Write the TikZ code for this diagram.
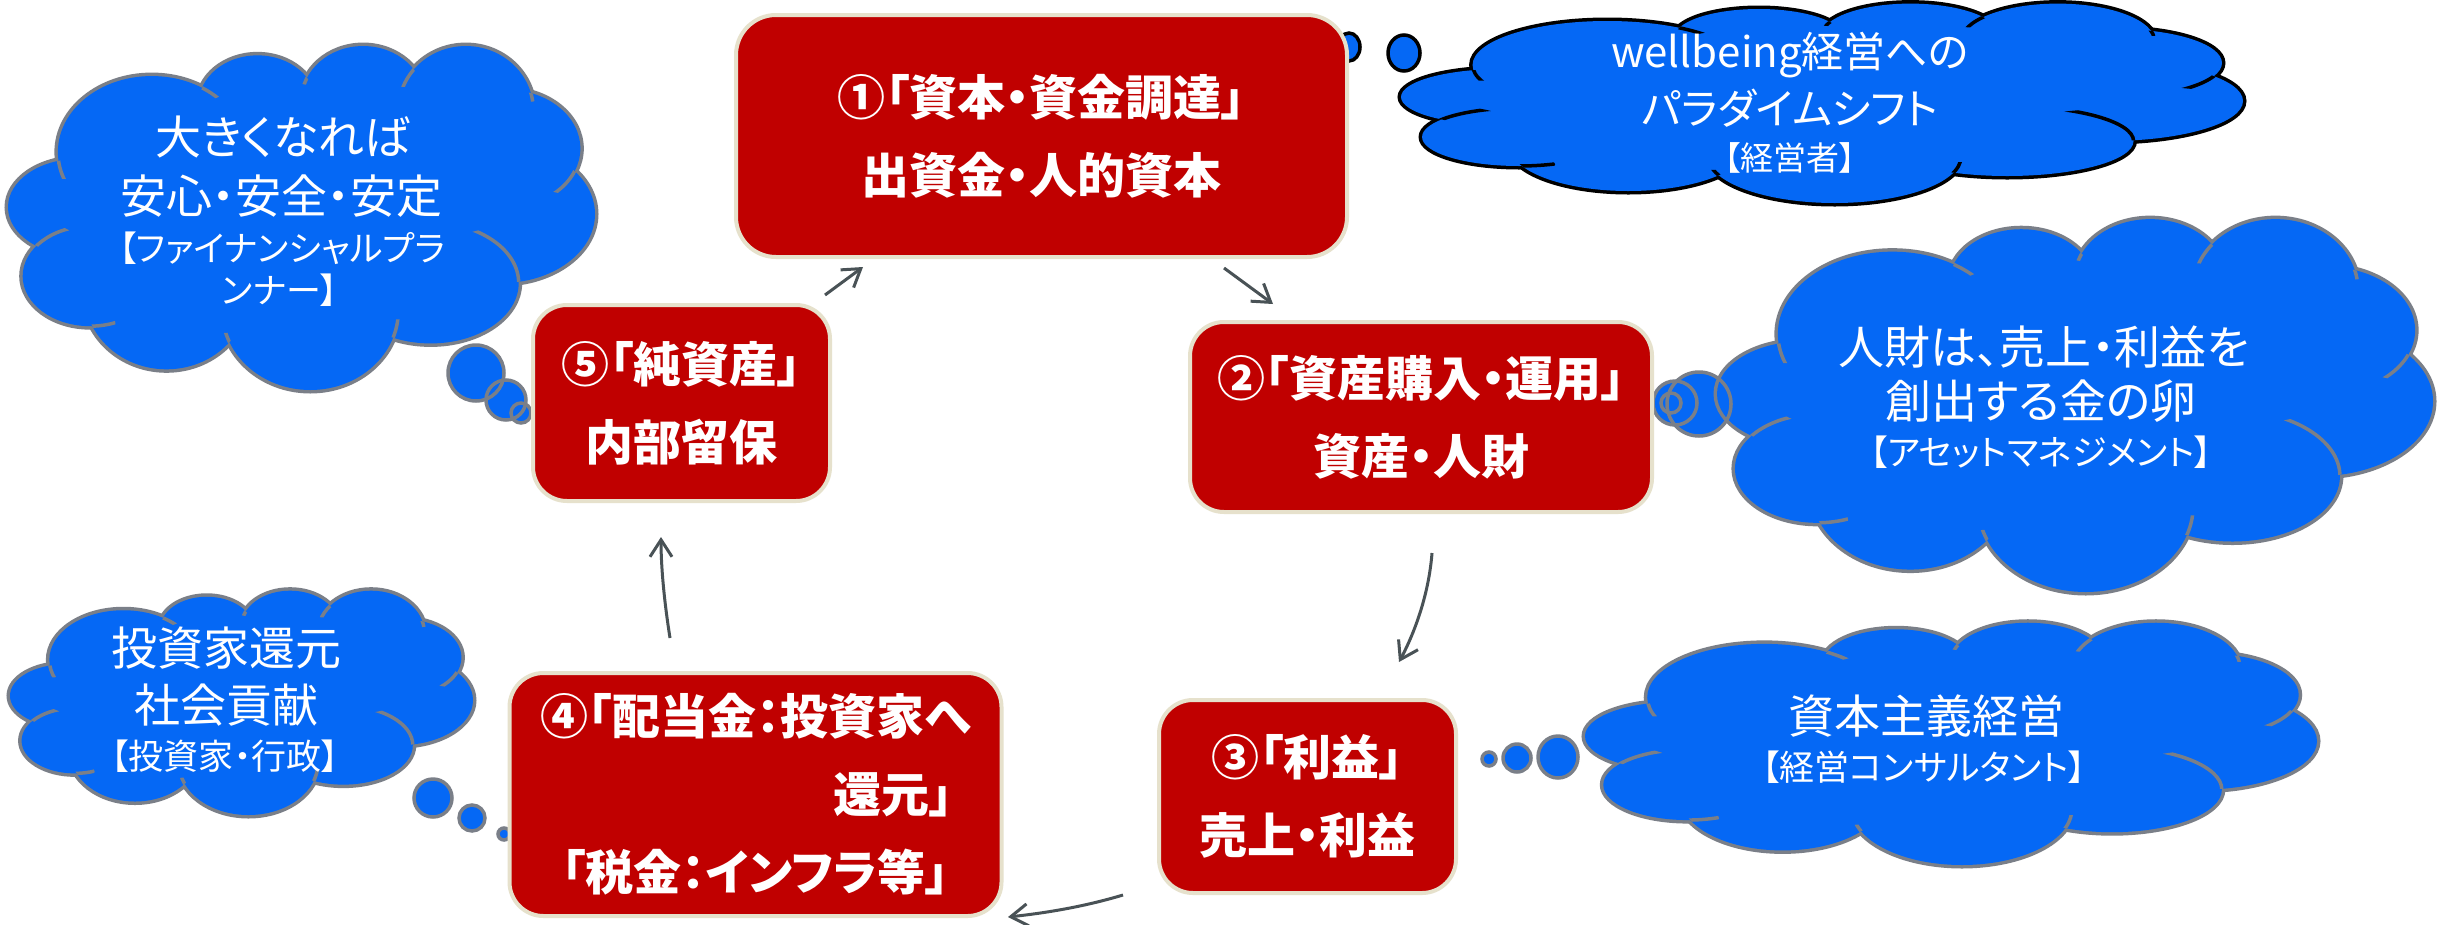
\documentclass[tikz,border=0pt]{standalone}
\usepackage{fontspec}
\newfontfamily\jp{Noto Sans CJK JP}[RawFeature=+palt]
\usetikzlibrary{arrows.meta}
\definecolor{boxred}{HTML}{C00000}
\definecolor{boxedge}{HTML}{E6E1CC}
\definecolor{cloudblue}{HTML}{0568F5}
\definecolor{cloudedge}{HTML}{7A7F88}
\definecolor{arrowgray}{HTML}{495256}
% lobes of a PowerPoint-like cloud in a unit box (u right, v down)
\def\lobelist{0.12/0.47/0.12/0.14, 0.245/0.31/0.16/0.22, 0.425/0.17/0.10/0.14,
  0.605/0.16/0.105/0.157, 0.78/0.19/0.115/0.187, 0.85/0.30/0.125/0.17,
  0.84/0.49/0.16/0.20, 0.72/0.69/0.15/0.175, 0.515/0.77/0.15/0.23,
  0.27/0.72/0.14/0.22, 0.14/0.67/0.115/0.145}
% inner arcs: lobe X / lobe Y it runs into / valley point / reach
\def\innerlist{%
  0.245/0.31/0.16/0.22/0.12/0.47/0.12/0.14/0.094/0.338/0.05,
  0.245/0.31/0.16/0.22/0.425/0.17/0.10/0.14/0.33/0.116/0.045,
  0.605/0.16/0.105/0.157/0.425/0.17/0.10/0.14/0.519/0.077/0.04,
  0.78/0.19/0.115/0.187/0.605/0.16/0.105/0.157/0.68/0.077/0.045,
  0.78/0.19/0.115/0.187/0.85/0.30/0.125/0.17/0.886/0.13/0.035,
  0.85/0.30/0.125/0.17/0.84/0.49/0.16/0.20/0.956/0.372/0.06,
  0.72/0.69/0.15/0.175/0.84/0.49/0.16/0.20/0.862/0.696/0.17,
  0.515/0.77/0.15/0.23/0.72/0.69/0.15/0.175/0.663/0.845/0.05,
  0.515/0.77/0.15/0.23/0.27/0.72/0.14/0.22/0.374/0.874/0.04,
  0.14/0.67/0.115/0.145/0.27/0.72/0.14/0.22/0.148/0.807/0.035,
  0.14/0.67/0.115/0.145/0.12/0.47/0.12/0.14/0.054/0.586/0.07}
% #1 left, #2 top, #3 width, #4 height, #5 outline colour
\newcommand\pptcloud[5]{%
  \begin{scope}[shift={(#1,#2)}, xscale=#3, yscale=#4]
    \foreach \cu/\cv/\ca/\cb in \lobelist
      {\draw[draw=#5, line width=7pt] (\cu,\cv) ellipse[x radius=\ca, y radius=\cb];}
    \foreach \cu/\cv/\ca/\cb in \lobelist
      {\fill[cloudblue] (\cu,\cv) ellipse[x radius=\ca, y radius=\cb];}
    \fill[cloudblue] (0.5,0.5) ellipse[x radius=0.38, y radius=0.33];
    \foreach \xu/\xv/\xa/\xb/\yu/\yv/\ya/\yb/\pu/\pv/\rr in \innerlist {%
      \begin{scope}
        \clip (\yu,\yv) ellipse[x radius=\ya, y radius=\yb];
        \clip (\pu,\pv) ellipse[x radius=\rr, y radius=\rr];
        \draw[draw=#5, line width=3.5pt] (\xu,\xv) ellipse[x radius=\xa, y radius=\xb];
      \end{scope}}
  \end{scope}}
\begin{document}
\begin{tikzpicture}[x=1pt,y=-1pt,
  procbox/.style={rectangle, rounded corners=34pt, fill=boxred, draw=boxedge, line width=4pt,
    text=white, font=\jp\bfseries\fontsize{48}{78}\selectfont, align=center, inner sep=0pt},
  bubfill/.style={fill=cloudblue},
  bubline/.style={draw=cloudedge, line width=3.5pt},
  bigtext/.style={text=white, inner sep=0pt, font=\jp\fontsize{46}{50}\selectfont},
  smalltext/.style={text=white, inner sep=0pt, font=\jp\fontsize{35}{40}\selectfont},
  flow/.style={draw=arrowgray, line width=3pt, -{Straight Barb[length=17pt,width=22pt]}}
]
\fill[white] (0,0) rectangle (2456,924);
\useasboundingbox (0,0) rectangle (2456,924);

% ---------- thought bubbles: fills ----------
\fill[bubfill] (1307,42) ellipse[x radius=5, y radius=6];
\fill[bubfill] (1349,47) ellipse[x radius=11, y radius=14];
\fill[bubfill] (1404,53) ellipse[x radius=16, y radius=18];
\fill[bubfill] (476,373) circle[radius=28];
\fill[bubfill] (506,400) circle[radius=20];
\fill[bubfill] (521,413) circle[radius=10];
\fill[bubfill] (1675,403) circle[radius=22];
\fill[bubfill] (1671,403) circle[radius=10];
\fill[bubfill] (1699,404) circle[radius=32];
\fill[bubfill] (1489,759) circle[radius=7];
\fill[bubfill] (1517,758) circle[radius=14];
\fill[bubfill] (1558,757) ellipse[x radius=20, y radius=21];
\fill[bubfill] (433,798) circle[radius=19];
\fill[bubfill] (472,818) circle[radius=13];
\fill[bubfill] (504,834) circle[radius=6];

% ---------- clouds ----------
\pptcloud{1401}{3}{842}{200}{black}
\pptcloud{8}{45}{587}{345}{cloudedge}
\pptcloud{1717}{218}{716}{374}{cloudedge}
\pptcloud{1585}{622}{732}{243}{cloudedge}
\pptcloud{10}{590}{463}{225}{cloudedge}

% ---------- thought bubbles: outlines ----------
\draw[bubline, draw=black] (1307,42) ellipse[x radius=5, y radius=6];
\draw[bubline, draw=black] (1349,47) ellipse[x radius=11, y radius=14];
\draw[bubline, draw=black] (1404,53) ellipse[x radius=16, y radius=18];
\draw[bubline] (476,373) circle[radius=28];
\draw[bubline] (506,400) circle[radius=20];
\draw[bubline] (521,413) circle[radius=10];
\draw[bubline] (1675,403) circle[radius=22];
\draw[bubline] (1671,403) circle[radius=10];
\draw[bubline] (1699,404) circle[radius=32];
\draw[bubline] (1489,759) circle[radius=7];
\draw[bubline] (1517,758) circle[radius=14];
\draw[bubline] (1558,757) ellipse[x radius=20, y radius=21];
\draw[bubline] (433,798) circle[radius=19];
\draw[bubline] (472,818) circle[radius=13];
\draw[bubline] (504,834) circle[radius=6];

% ---------- cloud texts ----------
\node[bigtext, font=\jp\fontsize{42}{46}\selectfont] (tA1) at (1790,55) {wellbeing経営への};
\node[bigtext, font=\jp\fontsize{42}{46}\selectfont] (tA2) at (1790,108) {パラダイムシフト};
\node[smalltext, font=\jp\fontsize{33}{38}\selectfont] (tA3) at (1790,158) {【経営者】};

\node[bigtext] (tB1) at (283,137) {大きくなれば};
\node[bigtext] (tB2) at (281,196) {安心・安全・安定};
\node[smalltext] (tB3) at (282,248) {【ファイナンシャルプラ};
\node[smalltext] (tB4) at (280,290) {ンナー】};

\node[bigtext] (tC1) at (2044,347) {人財は、売上・利益を};
\node[bigtext] (tC2) at (2041,401) {創出する金の卵};
\node[smalltext] (tC3) at (2041,452) {【アセットマネジメント】};

\node[bigtext] (tD1) at (1926,716) {資本主義経営};
\node[smalltext] (tD2) at (1924,767) {【経営コンサルタント】};

\node[bigtext] (tE1) at (226,648) {投資家還元};
\node[bigtext] (tE2) at (226,705) {社会貢献};
\node[smalltext] (tE3) at (225,756) {【投資家・行政】};

% ---------- process boxes ----------
\node[procbox, rounded corners=40pt, minimum width=611pt, minimum height=242pt] (b1) at (1041.5,136)
  {①「資本・資金調達」\\出資金・人的資本};
\node[procbox, minimum width=462pt, minimum height=190pt] (b2) at (1421,417)
  {②「資産購入・運用」\\資産・人財};
\node[procbox, minimum width=297pt, minimum height=193pt] (b3) at (1307.5,796.5)
  {③「利益」\\売上・利益};
\node[procbox, minimum width=492pt, minimum height=243pt] (b4) at (755.5,794.5)
  {④「配当金：投資家へ\\\makebox[396pt][r]{還元」}\\「税金：インフラ等」};
\node[procbox, minimum width=297pt, minimum height=196pt] (b5) at (681.5,403)
  {⑤「純資産」\\内部留保};

% ---------- cycle arrows ----------
\coordinate (a51s) at (825,295);  \coordinate (a51e) at (863,267);
\coordinate (a12s) at (1224,268); \coordinate (a12e) at (1273,304);
\coordinate (a23s) at (1432,553); \coordinate (a23e) at (1399,662);
\coordinate (a34s) at (1123,895); \coordinate (a34e) at (1008,917);
\coordinate (a45s) at (670,638);  \coordinate (a45e) at (661,537);
\draw[flow] (a51s) -- (a51e);
\draw[flow] (a12s) -- (a12e);
\draw[flow] (a23s) .. controls (1429,592) and (1416,630) .. (a23e);
\draw[flow] (a34s) .. controls (1083,907) and (1045,913) .. (a34e);
\draw[flow] (a45s) .. controls (664,600) and (661,566) .. (a45e);
\end{tikzpicture}
\end{document}
